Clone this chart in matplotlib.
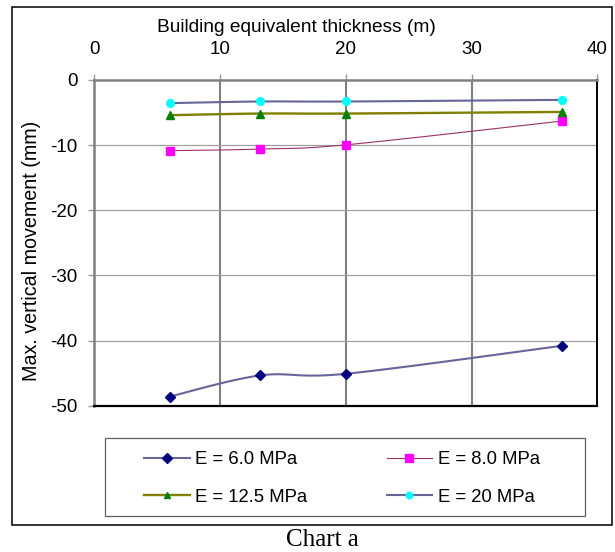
import numpy as np
import matplotlib
matplotlib.use("Agg")
import matplotlib.pyplot as plt
from matplotlib.lines import Line2D
from matplotlib.patches import Rectangle

# ---- data ----
thickness = [6.0, 13.2, 20.0, 37.2]
e_6_0 = [-48.6, -45.35, -45.1, -40.8]
e_8_0 = [-10.85, -10.6, -9.95, -6.3]
e_12_5 = [-5.4, -5.15, -5.15, -4.9]
e_20 = [-3.55, -3.3, -3.3, -3.05]
labels = ["E = 6.0 MPa", "E = 8.0 MPa", "E = 12.5 MPa", "E = 20 MPa"]
x_ticks = [0, 10, 20, 30, 40]
y_ticks = [0, -10, -20, -30, -40, -50]

W, H = 615, 552
plt.rcParams['font.family'] = ['Liberation Sans', 'DejaVu Sans']

def smooth(x, y, n=40):
    """Catmull-Rom style cubic Bezier smoothing (like a spreadsheet 'smoothed line')."""
    P = np.column_stack([x, y]).astype(float)
    m = len(P)
    out = []
    for i in range(m - 1):
        p0 = P[i - 1] if i > 0 else P[i]
        p1, p2 = P[i], P[i + 1]
        p3 = P[i + 2] if i + 2 < m else P[i + 1]
        c1 = p1 + (p2 - p0) / 6.0
        c2 = p2 - (p3 - p1) / 6.0
        t = np.linspace(0, 1, n)[:, None]
        seg = ((1 - t) ** 3) * p1 + 3 * ((1 - t) ** 2) * t * c1 + 3 * (1 - t) * t ** 2 * c2 + t ** 3 * p2
        out.append(seg if i == 0 else seg[1:])
    s = np.vstack(out)
    return s[:, 0], s[:, 1]

fig = plt.figure(figsize=(W / 100, H / 100), dpi=100)

def fx(px):
    return px / W

def fy(py):
    return 1 - py / H

# axes position from pixel bounds
L, R, T, B = 94.3, 597.3, 80.0, 405.7
ax = fig.add_axes([fx(L), fy(B), fx(R) - fx(L), fy(T) - fy(B)])

series = [
    (e_6_0, '#666699', 1.5, 'D', '#000080', 5.5),
    (e_8_0, '#993366', 0.8, 's', '#FF00FF', 6.0),
    (e_12_5, '#808000', 1.7, '^', '#008000', 5.5),
    (e_20, '#666699', 1.5, 'o', '#00FFFF', 5.5),
]
handles = []
for (vals, lc, lw, mk, mc, ms), lab in zip(series, labels):
    sx, sy = smooth(thickness, vals)
    ax.plot(sx, sy, color=lc, lw=lw, zorder=3, solid_capstyle='butt')
    ax.plot(thickness, vals, ls='none', marker=mk, color=mc, ms=ms, mec=mc, zorder=4, clip_on=False)
    handles.append(Line2D([], [], color=lc, lw=lw, marker=mk, mfc=mc, mec=mc, ms=ms * 0.85))

ax.set_xlim(0, 40)
ax.set_ylim(-50, 0)
ax.xaxis.tick_top()
ax.set_xticks(x_ticks)
ax.set_yticks(y_ticks)
ax.set_xticklabels([str(v) for v in x_ticks])
ax.set_yticklabels([str(v) for v in y_ticks])
ax.tick_params(axis='x', which='major', direction='out', length=4.5, width=1.0, color='#999999',
               labelsize=13.5, pad=11.5)
ax.tick_params(axis='y', which='major', direction='out', length=4.5, width=1.0, color='#999999',
               labelsize=13.5, pad=7.5)

# gridlines
for v in x_ticks[1:-1]:
    ax.axvline(v, color='#808080', lw=1.5, zorder=1)
for v in y_ticks[1:-1]:
    ax.axhline(v, color='#A0A0A0', lw=0.9, zorder=1)

ax.spines['left'].set_color('#808080')
ax.spines['left'].set_linewidth(1.8)
ax.spines['top'].set_color('#808080')
ax.spines['top'].set_linewidth(1.8)
ax.spines['right'].set_color('black')
ax.spines['right'].set_linewidth(1.4)
ax.spines['bottom'].set_color('black')
ax.spines['bottom'].set_linewidth(1.6)

fig.text(fx(296), fy(27), "Building equivalent thickness (m)", ha='center', va='center', fontsize=13.8)
fig.text(fx(32), fy(251), "Max. vertical movement (mm)", ha='center', va='center', rotation=90, fontsize=14.2)

# outer chart border
fig.patches.append(Rectangle((fx(12.3), fy(525)), fx(611.7) - fx(12.3), fy(7.3) - fy(525),
                             transform=fig.transFigure, fill=False, ec='black', lw=1.1))
# legend frame
fig.patches.append(Rectangle((fx(105), fy(516)), fx(585) - fx(105), fy(437.7) - fy(516),
                             transform=fig.transFigure, fill=False, ec='#606060', lw=0.9))

order = [0, 2, 1, 3]
leg = fig.legend([handles[i] for i in order], [labels[i] for i in order], ncol=2,
                 loc='center', bbox_to_anchor=(fx(342), fy(478.5)), frameon=False,
                 fontsize=13.3, handlelength=2.45, handletextpad=0.3, columnspacing=4.3,
                 labelspacing=1.1, borderpad=0.2)

fig.text(fx(322), fy(540), "Chart a", ha='center', va='center', fontsize=18,
         family=['Liberation Serif', 'DejaVu Serif'])

fig.savefig("out.png", dpi=100)
